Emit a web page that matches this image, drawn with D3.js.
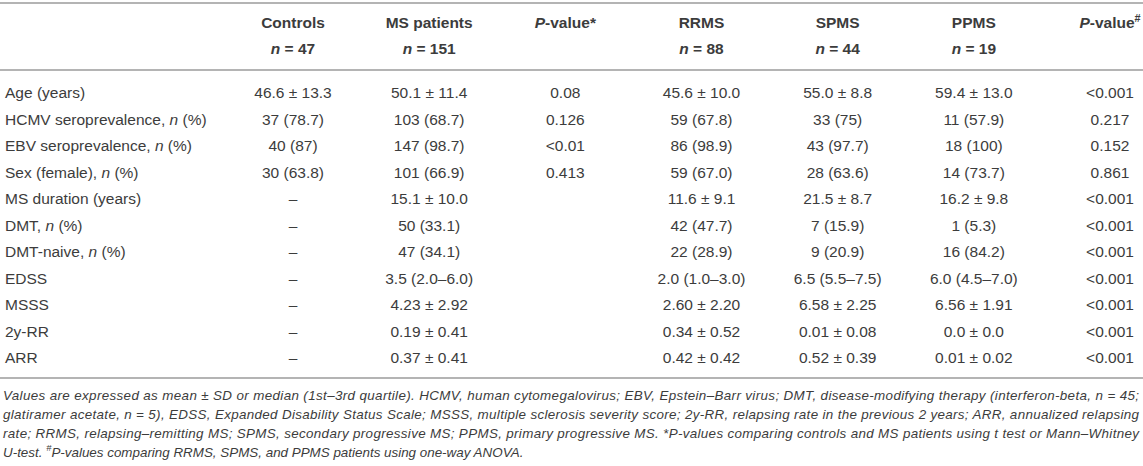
<!DOCTYPE html>
<html>
<head>
<meta charset="utf-8">
<script src="https://cdn.jsdelivr.net/npm/d3@7"></script>
<style>
  body { margin: 0; background: #fff; }
  svg text { font-family: "Liberation Sans", Arial, sans-serif; fill: #3c3c3c; }
</style>
</head>
<body>
<div id="table"></div>
<script>
// _x_ = italic, ^x^ = superscript
var groups = ["Controls", "MS patients", "_P_-value*", "RRMS", "SPMS", "PPMS", "_P_-value^#^"];
var groupN = ["47", "151", "", "88", "44", "19", ""];
var rowLabels = ["Age (years)", "HCMV seroprevalence, _n_ (%)", "EBV seroprevalence, _n_ (%)", "Sex (female), _n_ (%)",
    "MS duration (years)", "DMT, _n_ (%)", "DMT-naive, _n_ (%)", "EDSS", "MSSS", "2y-RR", "ARR"];
var controls = ["46.6 ± 13.3", "37 (78.7)", "40 (87)", "30 (63.8)", "–", "–", "–", "–", "–", "–", "–"];
var msPatients = ["50.1 ± 11.4", "103 (68.7)", "147 (98.7)", "101 (66.9)", "15.1 ± 10.0", "50 (33.1)", "47 (34.1)",
    "3.5 (2.0–6.0)", "4.23 ± 2.92", "0.19 ± 0.41", "0.37 ± 0.41"];
var pStar = ["0.08", "0.126", "<0.01", "0.413", "", "", "", "", "", "", ""];
var rrms = ["45.6 ± 10.0", "59 (67.8)", "86 (98.9)", "59 (67.0)", "11.6 ± 9.1", "42 (47.7)", "22 (28.9)",
    "2.0 (1.0–3.0)", "2.60 ± 2.20", "0.34 ± 0.52", "0.42 ± 0.42"];
var spms = ["55.0 ± 8.8", "33 (75)", "43 (97.7)", "28 (63.6)", "21.5 ± 8.7", "7 (15.9)", "9 (20.9)",
    "6.5 (5.5–7.5)", "6.58 ± 2.25", "0.01 ± 0.08", "0.52 ± 0.39"];
var ppms = ["59.4 ± 13.0", "11 (57.9)", "18 (100)", "14 (73.7)", "16.2 ± 9.8", "1 (5.3)", "16 (84.2)",
    "6.0 (4.5–7.0)", "6.56 ± 1.91", "0.0 ± 0.0", "0.01 ± 0.02"];
var pHash = ["<0.001", "0.217", "0.152", "0.861", "<0.001", "<0.001", "<0.001", "<0.001", "<0.001", "<0.001", "<0.001"];
var footnote = [
    "Values are expressed as mean ± SD or median (1st–3rd quartile). HCMV, human cytomegalovirus; EBV, Epstein–Barr virus; DMT, disease-modifying therapy (interferon-beta, n = 45;",
    "glatiramer acetate, n = 5), EDSS, Expanded Disability Status Scale; MSSS, multiple sclerosis severity score; 2y-RR, relapsing rate in the previous 2 years; ARR, annualized relapsing",
    "rate; RRMS, relapsing–remitting MS; SPMS, secondary progressive MS; PPMS, primary progressive MS. *P-values comparing controls and MS patients using t test or Mann–Whitney",
    "U-test. ^#^P-values comparing RRMS, SPMS, and PPMS patients using one-way ANOVA."
];

var columns = [controls, msPatients, pStar, rrms, spms, ppms, pHash];

var W = 1143, H = 466, fs = 15.5, fsNote = 13.4;
var svg = d3.select("#table").append("svg").attr("width", W).attr("height", H);

var x = d3.scalePoint().domain(d3.range(groups.length)).range([293, 1110]);
var y = d3.scalePoint().domain(rowLabels).range([93, 358]);
var yHead = d3.scalePoint().domain(["name", "n"]).range([23, 49]);
var yNote = d3.scalePoint().domain(d3.range(footnote.length)).range([395, 452]);

function rich(t, s, size) {
    var back = 0;
    s.split(/(_[^_]+_|\^[^^]+\^)/).filter(function (p) { return p.length; }).forEach(function (p) {
        var span;
        if (p[0] === "_") {
            span = t.append("tspan").style("font-style", "italic").text(p.slice(1, -1));
        } else if (p[0] === "^") {
            t.append("tspan").attr("dy", -size * 0.4 + back).style("font-size", (size * 0.7) + "px").text(p.slice(1, -1));
            back = size * 0.4;
            return;
        } else {
            span = t.append("tspan").text(p);
        }
        if (back) { span.attr("dy", back); back = 0; }
    });
    return t;
}

function rule(yy) {
    svg.append("line").attr("x1", 0).attr("x2", W).attr("y1", yy).attr("y2", yy)
        .attr("stroke", "#b4b4b4").attr("stroke-width", 2);
}
rule(3);
rule(70);
rule(378);

// header
groups.forEach(function (g, i) {
    rich(svg.append("text").attr("x", x(i)).attr("y", yHead("name")).attr("dy", "0.35em")
        .attr("text-anchor", "middle").style("font-size", fs + "px").style("font-weight", "bold"), g, fs);
    if (groupN[i]) {
        rich(svg.append("text").attr("x", x(i)).attr("y", yHead("n")).attr("dy", "0.35em")
            .attr("text-anchor", "middle").style("font-size", fs + "px").style("font-weight", "bold"), "_n_ = " + groupN[i], fs);
    }
});

// row labels
rowLabels.forEach(function (r) {
    rich(svg.append("text").attr("x", 5).attr("y", y(r)).attr("dy", "0.35em").style("font-size", fs + "px"), r, fs);
});

// cells
columns.forEach(function (col, i) {
    svg.append("g").selectAll("text").data(col).join("text")
        .attr("x", x(i)).attr("y", function (d, j) { return y(rowLabels[j]); }).attr("dy", "0.35em")
        .attr("text-anchor", "middle").style("font-size", fs + "px")
        .text(function (d) { return d; });
});

// footnote, justified except last line
footnote.forEach(function (f, i) {
    var t = svg.append("text").attr("x", 3).attr("y", yNote(i)).attr("dy", "0.35em")
        .style("font-size", fsNote + "px").style("font-style", "italic");
    rich(t, f, fsNote);
    if (i < footnote.length - 1) t.attr("textLength", W - 7).attr("lengthAdjust", "spacing");
});
</script>
</body>
</html>
